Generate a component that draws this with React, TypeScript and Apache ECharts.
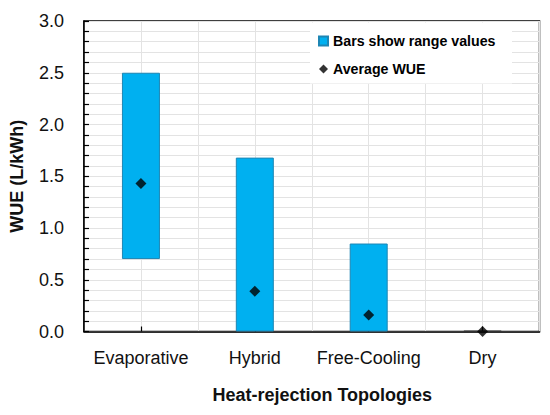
import React, { useEffect, useRef } from "react";
import * as echarts from "echarts";

const categories = ["Evaporative", "Hybrid", "Free-Cooling", "Dry"];
const rangeLow = [0.7, 0, 0, 0];
const rangeHigh = [2.5, 1.68, 0.85, 0.006];
const averages = [1.43, 0.39, 0.16, 0.0];
const yTicks = { min: 0, max: 3, interval: 0.5 };

const FONT = "'Liberation Sans', Arial, sans-serif";

export default function App() {
  const ref = useRef<HTMLDivElement>(null);
  useEffect(() => {
    if (!ref.current) return;
    const chart = echarts.init(ref.current, undefined, { renderer: "svg" });
    const spans = rangeHigh.map((h, i) => +(h - rangeLow[i]).toFixed(4));
    chart.setOption({
      animation: false,
      backgroundColor: "#ffffff",
      grid: {
        left: 84,
        right: 10.5,
        top: 21,
        bottom: 83.5,
        show: true,
        borderColor: "#000",
        borderWidth: 1.5,
        backgroundColor: "transparent",
      },
      legend: {
        orient: "vertical",
        left: 318,
        top: 32,
        padding: 0,
        itemWidth: 9,
        itemHeight: 9,
        itemGap: 10,
        z: 10,
        data: [
          { name: "Bars show range values", icon: "rect" },
          { name: "Average WUE", icon: "diamond" },
        ],
        textStyle: {
          fontFamily: FONT,
          fontWeight: "bold",
          fontSize: 14.2,
          lineHeight: 18,
          color: "#000",
        },
      },
      graphic: [
        {
          type: "rect",
          z: 5,
          shape: { x: 310, y: 22.5, width: 202, height: 61 },
          style: { fill: "#ffffff" },
        },
      ],
      xAxis: [
        {
          type: "category",
          data: categories,
          boundaryGap: true,
          axisLine: { show: true, lineStyle: { color: "#000", width: 1.5 } },
          axisTick: { show: true, inside: true, alignWithLabel: true, length: 5, lineStyle: { color: "#000", width: 1.2 } },
          axisLabel: { interval: 0, fontFamily: FONT, fontSize: 18, color: "#111", margin: 17 },
          splitLine: { show: false },
          name: "Heat-rejection Topologies",
          nameLocation: "middle",
          nameGap: 54,
          nameTextStyle: {
            fontFamily: FONT,
            fontWeight: "bold",
            fontSize: 18,
            color: "#111",
            padding: [0, 0, 0, 21],
          },
        },
        {
          type: "value",
          position: "top",
          min: 0,
          max: 8,
          interval: 1,
          axisLine: { show: false },
          axisTick: { show: false },
          axisLabel: { show: false },
          splitLine: { show: true, lineStyle: { color: "#e3e3e3", width: 1 } },
        },
      ],
      yAxis: {
        type: "value",
        min: yTicks.min,
        max: yTicks.max,
        interval: yTicks.interval,
        axisLine: { show: true, lineStyle: { color: "#000", width: 1.5 } },
        axisTick: { show: true, inside: true, length: 5, lineStyle: { color: "#000", width: 1.2 } },
        minorTick: { show: true, splitNumber: 5, length: 5, lineStyle: { color: "#000", width: 1.2 } },
        splitLine: { show: true, lineStyle: { color: "#e3e3e3", width: 1 } },
        minorSplitLine: { show: true, lineStyle: { color: "#e3e3e3", width: 1 } },
        axisLabel: {
          fontFamily: FONT,
          fontSize: 18,
          color: "#111",
          margin: 20,
          formatter: (v: number) => v.toFixed(1),
        },
        name: "WUE (L/kWh)",
        nameLocation: "middle",
        nameGap: 58,
        nameTextStyle: { fontFamily: FONT, fontWeight: "bold", fontSize: 18, color: "#111" },
      },
      series: [
        {
          name: "base",
          type: "bar",
          stack: "range",
          barWidth: 38,
          itemStyle: { color: "transparent" },
          emphasis: { disabled: true },
          data: rangeLow,
          z: 2,
        },
        {
          name: "Bars show range values",
          type: "bar",
          stack: "range",
          barWidth: 38,
          itemStyle: { color: "#00B0F0", borderColor: "#1E86B4", borderWidth: 1 },
          data: spans.map((v, i) =>
            i === categories.length - 1
              ? { value: v, itemStyle: { borderColor: "#333", borderWidth: 1.5 } }
              : v
          ),
          z: 2,
        },
        {
          name: "Average WUE",
          type: "scatter",
          symbol: "diamond",
          symbolSize: 11,
          itemStyle: { color: "#000" },
          data: averages,
          z: 3,
        },
      ],
    });
    return () => chart.dispose();
  }, []);
  return <div ref={ref} style={{ width: 550, height: 415, margin: -8 }} />;
}
